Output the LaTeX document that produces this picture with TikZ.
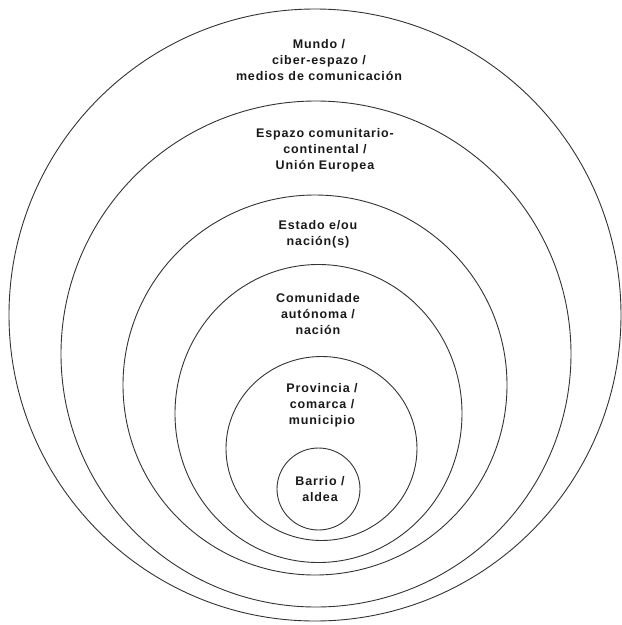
\documentclass[tikz,border=0pt]{standalone}
\usepackage{fontspec}
\setmainfont{Liberation Sans}[LetterSpace=7]
\begin{document}
\begin{tikzpicture}[x=1pt,y=-1pt,
  ring/.style={draw=black!80, line width=0.9pt},
  lbl/.style={font=\bfseries\fontsize{12.5}{15.8}\selectfont, align=center, inner sep=0pt, text=black!90}]
\useasboundingbox (0,0) rectangle (622,625);
\path[ring] (315,315) ellipse [x radius=306, y radius=306];
\path[ring] (316,354) ellipse [x radius=255, y radius=253];
\path[ring] (315,385) ellipse [x radius=192, y radius=190];
\path[ring] (318.5,413.5) ellipse [x radius=143.5, y radius=149];
\path[ring] (321.5,448.5) ellipse [x radius=95.5, y radius=92];
\path[ring] (318.5,489) ellipse [x radius=41.5, y radius=41];
\node[lbl] (mundo) at (319,60) {Mundo /\\ciber-espazo /\\medios de comunicación};
\node[lbl] (espazo) at (325,150) {Espazo comunitario-\\continental /\\Unión Europea};
\node[lbl] (estado) at (318,234) {Estado e/ou\\nación(s)};
\node[lbl] (comunidade) at (318,314) {Comunidade\\autónoma /\\nación};
\node[lbl] (provincia) at (322,405) {Provincia /\\comarca /\\municipio};
\node[lbl] (barrio) at (320,489) {Barrio /\\aldea};
\end{tikzpicture}
\end{document}
